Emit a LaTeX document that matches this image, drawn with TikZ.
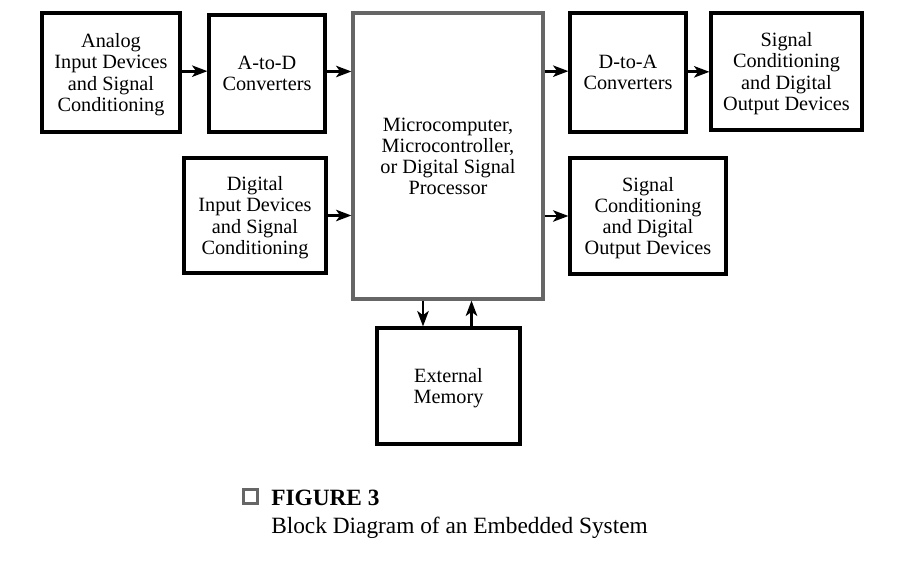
\documentclass[tikz,border=0pt]{standalone}
\usepackage{fontspec}
\setmainfont{Liberation Serif}
\usetikzlibrary{arrows.meta,positioning,calc}
\definecolor{frame}{HTML}{666666}
\tikzset{
  blk/.style={draw=black, line width=2.3pt, align=center, inner sep=0pt,
    text depth=0pt, font=\fontsize{15.2}{15.8}\selectfont},
  cpublk/.style={draw=frame, line width=2.3pt, align=center, inner sep=0pt,
    font=\fontsize{15.2}{15.8}\selectfont},
  arr/.style={line width=2.2pt, -{Stealth[length=11.5pt,width=8.5pt,inset=3pt]}},
}
\begin{document}
\begin{tikzpicture}[x=0.75pt,y=-0.75pt]
\useasboundingbox (0,0) rectangle (922,570);
\node[blk, minimum width=138*0.75pt, minimum height=119*0.75pt] (ana) at (111,72.5)
  {Analog\\Input Devices\\and Signal\\Conditioning};
\node[blk, minimum width=116*0.75pt, minimum height=117*0.75pt] (atod) at (267,73.5)
  {A-to-D\\Converters};
\node[cpublk, minimum width=190*0.75pt, minimum height=286*0.75pt] (cpu) at (448,156)
  {Microcomputer,\\Microcontroller,\\or Digital Signal\\Processor};
\node[blk, minimum width=116*0.75pt, minimum height=119*0.75pt] (dtoa) at (628,72.5)
  {D-to-A\\Converters};
\node[blk, minimum width=151*0.75pt, minimum height=117*0.75pt] (out1) at (786.5,71.5)
  {Signal\\Conditioning\\and Digital\\Output Devices};
\node[blk, minimum width=142*0.75pt, minimum height=115*0.75pt] (dig) at (255,215.5)
  {Digital\\Input Devices\\and Signal\\Conditioning};
\node[blk, minimum width=156*0.75pt, minimum height=116*0.75pt] (out2) at (648,216)
  {Signal\\Conditioning\\and Digital\\Output Devices};
\node[blk, minimum width=143*0.75pt, minimum height=116*0.75pt] (mem) at (448.5,386)
  {External\\Memory};
% connectors
\draw[arr] ([yshift=1pt]ana.east) -- ([yshift=1pt]ana.east -| atod.west);
\draw[arr] ([yshift=1.5pt]atod.east) -- ([yshift=1.5pt]atod.east -| cpu.west);
\draw[arr] ([yshift=1pt]cpu.east |- dtoa.west) -- ([yshift=1pt]dtoa.west);
\draw[arr] ([yshift=0.5pt]dtoa.east) -- ([yshift=0.5pt]dtoa.east -| out1.west);
\draw[arr] (dig.east) -- (dig.east -| cpu.west);
\draw[arr] (cpu.east |- out2.west) -- (out2.west);
\draw[arr] ([xshift=-25*0.75pt]cpu.south) -- ([xshift=-25*0.75pt]cpu.south |- mem.north);
\draw[arr] ([xshift=23*0.75pt]mem.north) -- ([xshift=23*0.75pt]mem.north |- cpu.south);
% caption
\node[draw=frame, line width=2.5pt, minimum size=13.5*0.75pt, inner sep=0pt] (sq) at (250.5,496.5) {};
\node[anchor=base west, inner sep=0pt, font=\fontsize{17.5}{20}\selectfont\bfseries] (fig) at (271,505) {FIGURE 3};
\node[anchor=base west, inner sep=0pt, font=\fontsize{17.5}{20}\selectfont] (cap) at (271,533) {Block Diagram of an Embedded System};
\end{tikzpicture}
\end{document}
